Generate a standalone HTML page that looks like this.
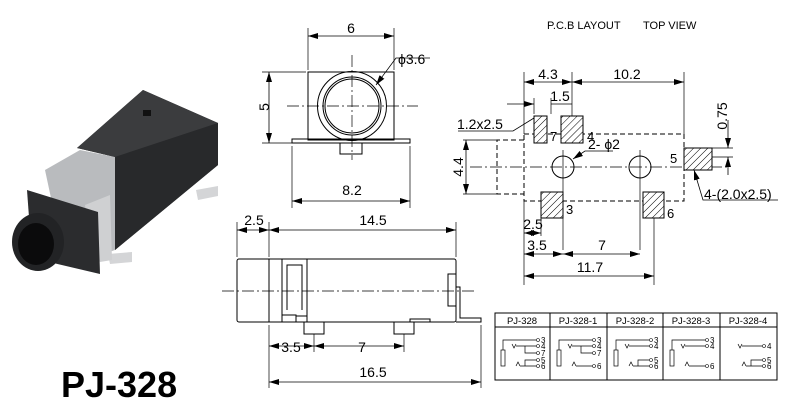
<!DOCTYPE html>
<html><head><meta charset="utf-8"><style>
body{margin:0;background:#fff}
svg{display:block;font-family:"Liberation Sans",Arial,sans-serif}
</style></head><body>
<svg width="800" height="403" viewBox="0 0 800 403" xmlns="http://www.w3.org/2000/svg">
<defs>
<marker id="a" viewBox="0 0 10 6" refX="10" refY="3" markerWidth="10" markerHeight="6" orient="auto-start-reverse" markerUnits="userSpaceOnUse"><path d="M0,0L10,3L0,6z" fill="#000"/></marker>
<pattern id="h" width="5" height="5" patternUnits="userSpaceOnUse" patternTransform="rotate(45)"><rect width="5" height="5" fill="#fff"/><line x1="0" y1="0" x2="0" y2="5" stroke="#000" stroke-width="1"/></pattern>
</defs>
<rect width="800" height="403" fill="#fff"/>

<!-- photo -->
<g>
<polygon points="196,190 218,186 218,196 198,200" fill="#d4d5d7"/>
<polygon points="108,254 132,252 132,262 110,264" fill="#d4d5d7"/>
<polygon points="45,170 80,150 115,157 115,250 100,255 60,240" fill="#b9bbbe"/>
<polygon points="143,90 218,123 218,165 115,250 115,157 77,148" fill="#2e2f31"/>
<polygon points="143,90 218,123 115,157 77,148" fill="#3b3c3e"/>
<polygon points="115,157 218,123 218,165 115,250" fill="#28292b"/>
<rect x="143" y="110" width="8" height="6" fill="#111"/>
<polygon points="85,205 110,195 112,260 100,262 92,250" fill="#cfd0d2"/>
<polygon points="27,190 98,212 100,274 32,258" fill="#2b2c2e"/>
<ellipse cx="38" cy="242" rx="26" ry="29" fill="#222325"/>
<ellipse cx="36" cy="244" rx="18" ry="21" fill="#0b0b0c"/>
</g>
<text x="61" y="397" font-size="36" font-weight="bold">PJ-328</text>

<g stroke="#000" fill="none" stroke-width="1">
<!-- front view -->
<rect x="308" y="72" width="86" height="68"/>
<rect x="292" y="139" width="118" height="4"/>
<path d="M340,143V154H362V143"/>
<circle cx="352" cy="106" r="34.5"/>
<circle cx="352" cy="106" r="29"/>
<circle cx="352" cy="106" r="27"/>
<path d="M287,106H418M352,55V160" stroke-dasharray="12,3,2,3" stroke-width=".7"/>
<path d="M308,70V28M394,70V28M306,72H262M306,143H262M292,146V208M410,146V208" stroke-width=".7"/>
<path d="M308,36H394" marker-start="url(#a)" marker-end="url(#a)" stroke-width=".8"/>
<path d="M269,72V143" marker-start="url(#a)" marker-end="url(#a)" stroke-width=".8"/>
<path d="M292,201H410" marker-start="url(#a)" marker-end="url(#a)" stroke-width=".8"/>
<path d="M430,58H396L376,85" stroke-width=".8" marker-end="url(#a)"/>

<!-- pcb -->
<rect x="524" y="134" width="160" height="67" stroke-dasharray="5,3"/>
<path d="M524,140H497V194H524" stroke-dasharray="5,3"/>
<path d="M470,167H730" stroke-dasharray="12,3,2,3" stroke-width=".7"/>
<circle cx="563" cy="167" r="11"/>
<circle cx="640" cy="167" r="11"/>
<path d="M563,150V250M640,150V250" stroke-width=".7"/>
<rect x="534" y="116" width="13" height="27" fill="url(#h)"/>
<rect x="561" y="116" width="22" height="27" fill="url(#h)"/>
<rect x="684" y="148" width="28" height="22" fill="url(#h)"/>
<rect x="541" y="192" width="22" height="26" fill="url(#h)"/>
<rect x="643" y="192" width="21" height="26" fill="url(#h)"/>
<path d="M524,134V72M572,116V72M684,134V72M534,114V98M551,114V98M463,140H497M463,194H497M712,148H733M712,157H733M524,201V285M541,218V236M654,218V285" stroke-width=".7"/>
<path d="M524,82H572" marker-start="url(#a)" marker-end="url(#a)" stroke-width=".8"/>
<path d="M572,82H684" marker-start="url(#a)" marker-end="url(#a)" stroke-width=".8"/>
<path d="M507,104H534" marker-end="url(#a)" stroke-width=".8"/>
<path d="M551,104H572" stroke-width=".8"/>
<path d="M466,140V194" marker-start="url(#a)" marker-end="url(#a)" stroke-width=".8"/>
<path d="M728,120V148" marker-end="url(#a)" stroke-width=".8"/>
<path d="M728,175V157" marker-end="url(#a)" stroke-width=".8"/>
<path d="M524,233H541" marker-start="url(#a)" marker-end="url(#a)" stroke-width=".8"/>
<path d="M524,254H563" marker-start="url(#a)" marker-end="url(#a)" stroke-width=".8"/>
<path d="M563,254H640" marker-start="url(#a)" marker-end="url(#a)" stroke-width=".8"/>
<path d="M524,276H654" marker-start="url(#a)" marker-end="url(#a)" stroke-width=".8"/>
<path d="M458,131H513L534,118" stroke-width=".8"/>
<path d="M613,151H585L573,159" stroke-width=".8" marker-end="url(#a)"/>
<path d="M778,200H703L694,170" stroke-width=".8" marker-end="url(#a)"/>

<!-- side view -->
<rect x="237" y="259" width="219" height="63" rx="2"/>
<path d="M269,259V322M282,259V322M307,259V322M282,315H296V322M307,316H296"/>
<path d="M287,310V265H302V310"/>
<rect x="448" y="274" width="8" height="32"/>
<path d="M456,287H460V318H481V322H456"/>
<rect x="410" y="319" width="20" height="3"/>
<path d="M304,322V334H324V322M394,322V334H414V322"/>
<path d="M222,291H475" stroke-dasharray="12,3,2,3" stroke-width=".7"/>
<path d="M237,257V222M269,257V222M456,257V222M269,325V388M314,334V352M404,334V352M481,325V388" stroke-width=".7"/>
<path d="M237,230H269" marker-start="url(#a)" marker-end="url(#a)" stroke-width=".8"/>
<path d="M269,230H456" marker-start="url(#a)" marker-end="url(#a)" stroke-width=".8"/>
<path d="M269,346H314" marker-start="url(#a)" marker-end="url(#a)" stroke-width=".8"/>
<path d="M314,346H404" marker-start="url(#a)" marker-end="url(#a)" stroke-width=".8"/>
<path d="M269,382H481" marker-start="url(#a)" marker-end="url(#a)" stroke-width=".8"/>

<!-- table -->
<rect x="495" y="313" width="282" height="67"/>
<path d="M495,327H777M550,313V380M607,313V380M663,313V380M720,313V380"/>
</g>

<g font-size="14">
<text x="351" y="33" text-anchor="middle">6</text>
<text x="398" y="64">ϕ3.6</text>
<text x="264" y="107" text-anchor="middle" transform="rotate(-90 264 107)" dy="5">5</text>
<text x="352" y="195" text-anchor="middle">8.2</text>
<text x="548" y="79" text-anchor="middle">4.3</text>
<text x="627" y="79" text-anchor="middle">10.2</text>
<text x="560" y="101" text-anchor="middle">1.5</text>
<text x="457" y="129">1.2x2.5</text>
<text x="588" y="149">2- ϕ2</text>
<text x="458" y="167" text-anchor="middle" transform="rotate(-90 458 167)" dy="5">4.4</text>
<text x="722" y="116" text-anchor="middle" transform="rotate(-90 722 116)" dy="5">0.75</text>
<text x="704" y="199">4-(2.0x2.5)</text>
<text x="550" y="141" font-size="13">7</text>
<text x="587" y="141" font-size="13">4</text>
<text x="670" y="163" font-size="13">5</text>
<text x="566" y="214" font-size="13">3</text>
<text x="667" y="218" font-size="13">6</text>
<text x="533" y="229" text-anchor="middle">2.5</text>
<text x="537" y="250" text-anchor="middle">3.5</text>
<text x="602" y="250" text-anchor="middle">7</text>
<text x="590" y="272" text-anchor="middle">11.7</text>
<text x="254" y="225" text-anchor="middle">2.5</text>
<text x="373" y="225" text-anchor="middle">14.5</text>
<text x="291" y="352" text-anchor="middle">3.5</text>
<text x="362" y="352" text-anchor="middle">7</text>
<text x="373" y="377" text-anchor="middle">16.5</text>
</g>
<text x="547" y="29" font-size="11">P.C.B LAYOUT</text>
<text x="643" y="29" font-size="11">TOP VIEW</text>
<g font-size="9.5" text-anchor="middle">
<text x="522" y="324">PJ-328</text>
<text x="578" y="324">PJ-328-1</text>
<text x="635" y="324">PJ-328-2</text>
<text x="691" y="324">PJ-328-3</text>
<text x="748" y="324">PJ-328-4</text>
</g>

<!-- schematics -->
<g stroke="#000" fill="none" stroke-width=".7">
<g><rect x="501" y="350" width="4" height="16"/><path d="M503,350V340H536M512,344L514,348L516,344M516,346H536M525,346V353H536M516,366L518,362L520,366M520,366H536M525,366V360H536"/></g>
<g transform="translate(56,0)"><rect x="501" y="350" width="4" height="16"/><path d="M503,350V340H536M512,344L514,348L516,344M516,346H536M525,346V353H536M516,366L518,362L520,366M520,366H536"/></g>
<g transform="translate(113,0)"><rect x="501" y="350" width="4" height="16"/><path d="M503,350V340H536M512,344L514,348L516,344M516,346H536M516,366L518,362L520,366M520,366H536M525,366V360H536"/></g>
<g transform="translate(169,0)"><rect x="501" y="350" width="4" height="16"/><path d="M503,350V340H536M512,344L514,348L516,344M516,346H536M516,366L518,362L520,366M520,366H536"/></g>
<g transform="translate(226,0)"><path d="M512,344L514,348L516,344M516,346H536M516,366L518,362L520,366M520,366H536M525,366V360H536"/></g>
</g>
<g font-size="8">
<g><circle cx="538" cy="340" r="1.5" fill="none" stroke="#000" stroke-width=".6"/><text x="541" y="343">3</text><circle cx="538" cy="346" r="1.5" fill="none" stroke="#000" stroke-width=".6"/><text x="541" y="349">4</text><circle cx="538" cy="353" r="1.5" fill="none" stroke="#000" stroke-width=".6"/><text x="541" y="356">7</text><circle cx="538" cy="360" r="1.5" fill="none" stroke="#000" stroke-width=".6"/><text x="541" y="363">5</text><circle cx="538" cy="366" r="1.5" fill="none" stroke="#000" stroke-width=".6"/><text x="541" y="369">6</text></g>
<g transform="translate(56,0)"><circle cx="538" cy="340" r="1.5" fill="none" stroke="#000" stroke-width=".6"/><text x="541" y="343">3</text><circle cx="538" cy="346" r="1.5" fill="none" stroke="#000" stroke-width=".6"/><text x="541" y="349">4</text><circle cx="538" cy="353" r="1.5" fill="none" stroke="#000" stroke-width=".6"/><text x="541" y="356">7</text><circle cx="538" cy="366" r="1.5" fill="none" stroke="#000" stroke-width=".6"/><text x="541" y="369">6</text></g>
<g transform="translate(113,0)"><circle cx="538" cy="340" r="1.5" fill="none" stroke="#000" stroke-width=".6"/><text x="541" y="343">3</text><circle cx="538" cy="346" r="1.5" fill="none" stroke="#000" stroke-width=".6"/><text x="541" y="349">4</text><circle cx="538" cy="360" r="1.5" fill="none" stroke="#000" stroke-width=".6"/><text x="541" y="363">5</text><circle cx="538" cy="366" r="1.5" fill="none" stroke="#000" stroke-width=".6"/><text x="541" y="369">6</text></g>
<g transform="translate(169,0)"><circle cx="538" cy="340" r="1.5" fill="none" stroke="#000" stroke-width=".6"/><text x="541" y="343">3</text><circle cx="538" cy="346" r="1.5" fill="none" stroke="#000" stroke-width=".6"/><text x="541" y="349">4</text><circle cx="538" cy="366" r="1.5" fill="none" stroke="#000" stroke-width=".6"/><text x="541" y="369">6</text></g>
<g transform="translate(226,0)"><circle cx="538" cy="346" r="1.5" fill="none" stroke="#000" stroke-width=".6"/><text x="541" y="349">4</text><circle cx="538" cy="360" r="1.5" fill="none" stroke="#000" stroke-width=".6"/><text x="541" y="363">5</text><circle cx="538" cy="366" r="1.5" fill="none" stroke="#000" stroke-width=".6"/><text x="541" y="369">6</text></g>
</g>
</svg>
</body></html>
